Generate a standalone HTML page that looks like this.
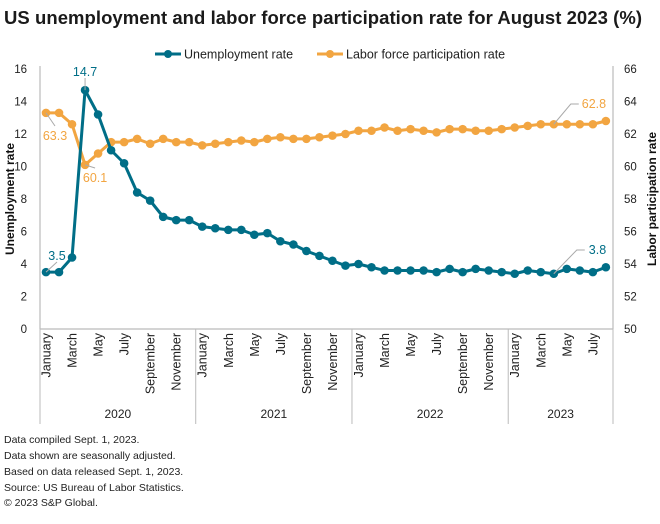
<!DOCTYPE html>
<html><head><meta charset="utf-8"><style>
body{margin:0;background:#fff;font-family:"Liberation Sans",sans-serif;}
svg text{font-family:"Liberation Sans",sans-serif;}
</style></head><body>
<svg id="chart" width="660" height="519" viewBox="0 0 660 519">
<text x="4" y="24" font-size="18.5" font-weight="bold" fill="#1a1a1a" textLength="638">US unemployment and labor force participation rate for August 2023 (%)</text>
<g>
<g>
<line x1="155" y1="54" x2="181" y2="54" stroke="#006e87" stroke-width="3"/><circle cx="168" cy="54" r="4" fill="#006e87"/>
<text x="184" y="58.5" font-size="12.5" fill="#222">Unemployment rate</text></g>
<g>
<line x1="317" y1="54" x2="343" y2="54" stroke="#f2a541" stroke-width="3"/><circle cx="330" cy="54" r="4" fill="#f2a541"/>
<text x="346" y="58.5" font-size="12.5" fill="#222">Labor force participation rate</text></g>
</g>
<g id="axes"></g>
<g id="marks"></g>
<g font-size="10.5" fill="#222">
<text x="4" y="443">Data compiled Sept. 1, 2023.</text>
<text x="4" y="459">Data shown are seasonally adjusted.</text>
<text x="4" y="475">Based on data released Sept. 1, 2023.</text>
<text x="4" y="491">Source: US Bureau of Labor Statistics.</text>
<text x="4" y="506">© 2023 S&amp;P Global.</text>
</g>
</svg>
<script>
const months=["January","February","March","April","May","June","July","August","September","October","November","December"];
const years=["2020","2021","2022","2023"];
const unemployment=[3.5,3.5,4.4,14.7,13.2,11.0,10.2,8.4,7.9,6.9,6.7,6.7,
6.3,6.2,6.1,6.1,5.8,5.9,5.4,5.2,4.8,4.5,4.2,3.9,
4.0,3.8,3.6,3.6,3.6,3.6,3.5,3.7,3.5,3.7,3.6,3.5,
3.4,3.6,3.5,3.4,3.7,3.6,3.5,3.8];
const participation=[63.3,63.3,62.6,60.1,60.8,61.5,61.5,61.7,61.4,61.7,61.5,61.5,
61.3,61.4,61.5,61.6,61.5,61.7,61.8,61.7,61.7,61.8,61.9,62.0,
62.2,62.2,62.4,62.2,62.3,62.2,62.1,62.3,62.3,62.2,62.2,62.3,
62.4,62.5,62.6,62.6,62.6,62.6,62.6,62.8];
const leftTicks=[0,2,4,6,8,10,12,14,16];
const rightTicks=[50,52,54,56,58,60,62,64,66];
const NS="http://www.w3.org/2000/svg";
const X0=46,DX=13.02,YB=329,YT=69,L=40,R=613;
const x=i=>X0+i*DX;
const yL=v=>YB-(v-0)/16*(YB-YT);
const yR=v=>YB-(v-50)/16*(YB-YT);
function mk(tag,attrs,parent,txt){const e=document.createElementNS(NS,tag);for(const k in attrs)e.setAttribute(k,attrs[k]);if(txt!==undefined)e.textContent=txt;parent.appendChild(e);return e;}
const ax=document.getElementById('axes'),mg=document.getElementById('marks');
mk('line',{x1:L,y1:YT-3,x2:L,y2:YB,stroke:'#bbb','stroke-width':1.2},ax);
mk('line',{x1:R,y1:YT-3,x2:R,y2:YB,stroke:'#bbb','stroke-width':1.2},ax);
mk('line',{x1:L,y1:YB,x2:R,y2:YB,stroke:'#bbb','stroke-width':1.2},ax);
leftTicks.forEach(v=>{const t=mk('text',{x:27,y:yL(v)+4,'font-size':11.5,'text-anchor':'end',fill:'#222'},ax,v);
});
rightTicks.forEach(v=>{const t=mk('text',{x:624,y:yR(v)+4,'font-size':11.5,fill:'#222'},ax,v);
});
const lt=mk('text',{transform:'translate(14,199) rotate(-90)','font-size':12,'font-weight':'bold','text-anchor':'middle',fill:'#111'},ax,'Unemployment rate');

const rt=mk('text',{transform:'translate(656,199) rotate(-90)','font-size':12,'font-weight':'bold','text-anchor':'middle',fill:'#111'},ax,'Labor participation rate');

const n=unemployment.length;
for(let i=0;i<n;i+=2){const t=mk('text',{transform:`translate(${x(i)+4.5},333) rotate(-90)`,'font-size':12.5,'text-anchor':'end',fill:'#222'},ax,months[i%12]);
}
years.forEach((yr,k)=>{const s=k*12,e=Math.min(n,s+12);const xs=k===0?L:(x(s)+x(s-1))/2;const xe=e>=n?R:(x(e)+x(e-1))/2;
const ln=mk('line',{x1:xs,y1:YB,x2:xs,y2:424,stroke:'#bbb','stroke-width':1},ax);
const t=mk('text',{x:(xs+xe)/2,y:418,'font-size':12,'text-anchor':'middle',fill:'#222'},ax,yr);
});
mk('line',{x1:R,y1:YB,x2:R,y2:424,stroke:'#bbb'},ax);
function series(vals,yf,color,name){const p=mk('polyline',{points:vals.map((v,i)=>x(i)+','+yf(v)).join(' '),fill:'none',stroke:color,'stroke-width':3,'stroke-linejoin':'round'},mg);

vals.forEach((v,i)=>{const c=mk('circle',{cx:x(i),cy:yf(v),r:4.3,fill:color},mg);
});}
series(participation,yR,'#f2a541','participation');
series(unemployment,yL,'#006e87','unemployment');
function label(txt,lx,ly,px,py,color,anchor,dy){const l=mk('line',{x1:lx,y1:ly,x2:px,y2:py,stroke:'#aaa','stroke-width':1},mg);
const t=mk('text',{x:lx,y:ly+dy,'font-size':12.5,fill:color,'text-anchor':anchor||'middle'},mg,txt);
}
label(unemployment[0].toFixed(1),57,262,x(0),yL(unemployment[0]),'#006e87','middle',-2);
label(unemployment[3].toFixed(1),x(3),78,x(3),yL(unemployment[3]),'#006e87','middle',-2);
label(participation[0].toFixed(1),55,126,x(0),yR(participation[0]),'#f2a541','middle',14);
label(participation[3].toFixed(1),x(3)+10,168,x(3),yR(participation[3]),'#f2a541','middle',14);
const last=n-1;
mk('polyline',{points:`${x(last-4)},${yR(participation[last-4])} ${x(last-4)+17},104 ${x(last-4)+25},104`,fill:'none',stroke:'#aaa'},mg);
const t1=mk('text',{x:x(last-4)+28,y:108,'font-size':12.5,fill:'#f2a541'},mg,participation[last].toFixed(1));
mk('polyline',{points:`${x(last-4)},${yL(unemployment[last-4])} ${x(last-4)+23},250 ${x(last-4)+31},250`,fill:'none',stroke:'#aaa'},mg);
const t2=mk('text',{x:x(last-4)+35,y:254,'font-size':12.5,fill:'#006e87'},mg,unemployment[last].toFixed(1));
</script>
</body></html>
